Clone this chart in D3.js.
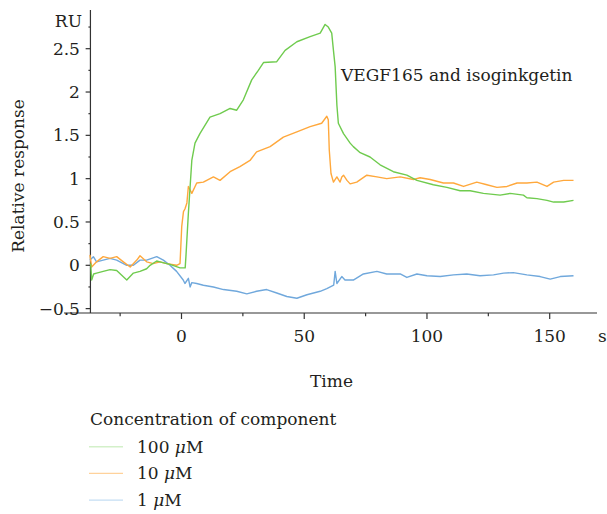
<!DOCTYPE html>
<html><head><meta charset="utf-8">
<script src="https://cdn.jsdelivr.net/npm/d3@7"></script>
<style>
body{margin:0;background:#fff;}
text{font-family:"DejaVu Serif",serif;fill:#231f20;}
</style></head>
<body><svg id="c" width="607" height="514"></svg>
<script>
// ---- data (time in s, relative response in RU) ----
const green100T = [-37,-36.6,-35.8,-34.6,-31.9,-29.1,-26.4,-22.3,-19.6,-16.9,-14.2,-12.8,-10.1,-8.8,-6,-4.7,-0.6,1.5,1.8,2.8,4.2,5.5,7.5,11.6,15.7,19.8,22.5,25.2,28.6,31.3,33.4,38.8,42.2,47,52.4,56.5,58.5,59.8,61.2,61.9,62.6,63.3,63.9,66,68.7,70,72.8,76.8,80.9,86.3,91.8,95.9,102.6,108.1,113.5,117.6,123,129.8,133.9,139.3,140.7,144.8,148.9,151.6,155.7,159.7];
const green100V = [0.02,-0.17,-0.10,-0.09,-0.07,-0.05,-0.06,-0.17,-0.09,-0.07,-0.04,0.0,0.05,0.04,0.02,0.01,-0.03,-0.03,0.10,0.6,1.21,1.41,1.52,1.71,1.75,1.81,1.79,1.91,2.14,2.25,2.34,2.35,2.48,2.58,2.64,2.68,2.78,2.75,2.68,2.48,2.29,1.85,1.64,1.52,1.41,1.37,1.30,1.25,1.16,1.08,1.04,0.98,0.93,0.90,0.86,0.86,0.83,0.81,0.83,0.81,0.78,0.77,0.75,0.73,0.73,0.75];

const orange10T = [-37.3,-36.6,-34.6,-31.9,-29.1,-26.4,-23.7,-20.9,-18.2,-16.9,-14.2,-11.5,-8.8,-6,-2,-0.6,0.1,0.8,1.4,2.2,2.8,4.2,6.2,8.9,13,15.7,19.8,23.8,27.9,30.6,36.1,41.5,47,52.4,57.1,59.2,59.8,60.2,60.9,61.9,63.3,64.6,65.3,66,67.4,68.7,71.4,75.5,79.6,83.6,89.1,94.5,97.2,101.3,106.7,110.8,114.9,120.3,124.4,128.5,132.6,136.7,140.7,144.8,148.9,151.6,155.7,159.7];
const orange10V = [0.12,-0.02,0.04,0.10,0.08,0.10,0.04,-0.02,0.06,0.11,0.04,0.02,0.04,0.02,0.0,0.02,0.45,0.62,0.65,0.72,0.91,0.83,0.95,0.96,1.02,0.98,1.08,1.14,1.21,1.31,1.37,1.48,1.54,1.60,1.64,1.72,1.68,1.33,1.06,0.96,1.02,0.96,1.02,1.04,0.98,0.94,0.96,1.04,1.02,1.0,1.02,0.99,1.01,0.99,0.95,0.95,0.91,0.96,0.93,0.90,0.91,0.95,0.95,0.96,0.91,0.96,0.98,0.98];

const blue1T = [-37.3,-35.9,-34.6,-31.9,-29.1,-26.4,-22.3,-19.6,-16.9,-14.2,-10.1,-7.4,-4.7,-2,0.7,1.4,2.8,3.5,4.2,6.2,8.9,13,17.1,22.5,26.6,30.6,34.7,38.8,42.9,47,51.1,56.5,59.2,62,62.6,63.3,65.3,66.6,70,74.1,79.6,83.6,89.1,91.8,95.9,100,105.4,110.8,116.2,121.6,127.1,131.2,135.2,140.7,146.1,150.2,154.3,159.7];
const blue1V = [0.06,0.10,0.04,0.06,0.08,0.06,0.0,0.0,0.06,0.06,0.10,0.06,0.0,-0.07,-0.17,-0.21,-0.15,-0.25,-0.20,-0.21,-0.23,-0.25,-0.28,-0.30,-0.33,-0.30,-0.28,-0.32,-0.36,-0.38,-0.34,-0.30,-0.27,-0.23,-0.07,-0.21,-0.13,-0.17,-0.17,-0.10,-0.07,-0.10,-0.10,-0.14,-0.10,-0.12,-0.13,-0.11,-0.10,-0.12,-0.11,-0.09,-0.085,-0.11,-0.13,-0.16,-0.13,-0.12];

const seriesConc = ["100","10","1"];
const seriesUnit = "\u03bc";
const xTicks = [0,50,100,150];
const xMinor = [-25,25,75,125];
const yTicks = [-0.5,0,0.5,1,1.5,2,2.5];
const yMinor = [-0.25,0.25,0.75,1.25,1.75,2.25,2.75];
const titleText = "VEGF165 and isoginkgetin";
const legendTitle = "Concentration of component";

// ---- drawing ----
const svg = d3.select("#c");
const FS = 17;
const x = d3.scaleLinear().domain([0,150]).range([181.5,549.7]);
const y = d3.scaleLinear().domain([0,2.5]).range([265.3,48.7]);
const xAxisLeft = x.invert(64), xAxisRight = x.invert(597);
const yAxisX = x(-37.1);
const yTop = y.invert(10), yBottom = y.invert(313);
const axisCol = "#333";

// x axis
const gx = svg.append("g").attr("transform",`translate(0,${y(yBottom)})`);
gx.append("line").attr("x1",x(xAxisLeft)).attr("x2",x(xAxisRight)).attr("stroke",axisCol).attr("stroke-width",1.2);
gx.selectAll(".mj").data(xTicks).join("line").attr("x1",d=>x(d)).attr("x2",d=>x(d)).attr("y1",0).attr("y2",6).attr("stroke",axisCol).attr("stroke-width",1.2);
gx.selectAll(".mn").data(xMinor).join("line").attr("x1",d=>x(d)).attr("x2",d=>x(d)).attr("y1",0).attr("y2",3.3).attr("stroke",axisCol).attr("stroke-width",1.2);
gx.selectAll(".tl").data(xTicks).join("text").attr("x",d=>x(d)).attr("y",28.5).attr("text-anchor","middle").attr("font-size",FS).text(d=>d);
svg.append("text").attr("x",598).attr("y",341.5).attr("font-size",FS).text("s");
svg.append("text").attr("x",331.5).attr("y",386.5).attr("text-anchor","middle").attr("font-size",FS).text("Time");

// y axis
const gy = svg.append("g").attr("transform",`translate(${yAxisX},0)`);
gy.append("line").attr("y1",y(yTop)).attr("y2",y(yBottom)).attr("stroke",axisCol).attr("stroke-width",1.2);
gy.selectAll(".mj").data(yTicks).join("line").attr("y1",d=>y(d)).attr("y2",d=>y(d)).attr("x1",-4.8).attr("x2",0).attr("stroke",axisCol).attr("stroke-width",1.2);
gy.selectAll(".mn").data(yMinor).join("line").attr("y1",d=>y(d)).attr("y2",d=>y(d)).attr("x1",-2).attr("x2",0).attr("stroke",axisCol).attr("stroke-width",1.2);
gy.selectAll(".tl").data(yTicks).join("text").attr("x",-10.5).attr("y",d=>y(d)+6).attr("text-anchor","end").attr("font-size",FS)
  .text(d=> d<0 ? "\u2212"+Math.abs(d) : String(d));
svg.append("text").attr("x",82).attr("y",27).attr("text-anchor","end").attr("font-size",FS).text("RU");
svg.append("text").attr("transform","translate(24,176) rotate(-90)").attr("text-anchor","middle").attr("font-size",FS).text("Relative response");

// curves
const colors = ["#6fcb4e","#ffa83c","#70a8dc"];
const legendColors = ["#d3f0c9","#ffd29b","#c4def3"];
const series = [
  d3.zip(green100T,green100V),
  d3.zip(orange10T,orange10V),
  d3.zip(blue1T,blue1V)
];
const line = d3.line().x(d=>x(d[0])).y(d=>y(d[1]));
[2,1,0].forEach(i=>{
  svg.append("path").attr("d",line(series[i])).attr("fill","none").attr("stroke",colors[i]).attr("stroke-width",1.4).attr("stroke-linejoin","round");
});

svg.append("text").attr("x",341).attr("y",81).attr("font-size",FS).text(titleText);

// legend
svg.append("text").attr("x",90).attr("y",425).attr("font-size",FS).text(legendTitle);
const lg = svg.selectAll(".lg").data(seriesConc).join("g").attr("transform",(d,i)=>`translate(0,${446.7+i*26.7})`);
lg.append("line").attr("x1",89).attr("x2",123).attr("stroke",(d,i)=>legendColors[i]).attr("stroke-width",1.4);
const lt = lg.append("text").attr("x",137).attr("y",6).attr("font-size",FS);
lt.append("tspan").text(d=>d+" ");
lt.append("tspan").attr("font-style","italic").text(seriesUnit);
lt.append("tspan").text("M");
</script></body></html>
